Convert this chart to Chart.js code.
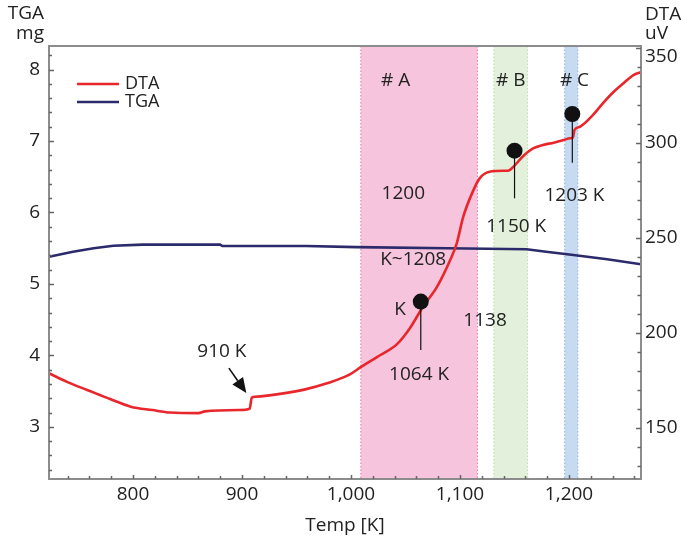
<!DOCTYPE html>
<html>
<head>
<meta charset="utf-8">
<script src="https://cdn.jsdelivr.net/npm/chart.js@4"></script>
<style>
  html, body { margin: 0; padding: 0; background: #fff; }
  #wrap { width: 682px; height: 542px; }
</style>
</head>
<body>
<div id="wrap"><canvas id="c" width="682" height="542"></canvas></div>
<script>
// Thermal analysis run: temperature in K
const dtaTemp = [723, 740, 758, 779, 798, 818, 834, 860, 866, 898, 907, 909, 912, 938, 958, 978, 998, 1010, 1027, 1042, 1054, 1066, 1079, 1091, 1097, 1103, 1111, 1118, 1127, 1140, 1144, 1149, 1158, 1167, 1176, 1186, 1195, 1201, 1203.5, 1205, 1210, 1222, 1231, 1241, 1250, 1259, 1266];
// DTA signal, uV (right axis)
const dtaValues = [178.7, 174.0, 169.9, 165.1, 161.1, 159.3, 158.0, 157.7, 158.6, 159.3, 160.0, 165.8, 166.3, 168.1, 170.2, 173.4, 177.8, 182.3, 188.3, 193.9, 202.4, 213.7, 224.3, 238.3, 247.1, 261.1, 273.4, 281.3, 284.8, 285.3, 285.3, 287.4, 293.1, 297.1, 298.9, 300.1, 301.5, 302.4, 302.8, 306.8, 308.5, 314.7, 320.8, 326.9, 331.4, 335.7, 337.2];

// TGA mass, mg (left axis)
const tgaTemp = [723, 745, 764, 782, 809, 880, 882, 959, 1005, 1088, 1161, 1179, 1204, 1235, 1266];
const tgaValues = [5.38, 5.45, 5.50, 5.535, 5.55, 5.55, 5.53, 5.53, 5.515, 5.50, 5.485, 5.45, 5.405, 5.345, 5.275];

// Marked transition temperatures (K) and pin extents (uV)
const pinTemp = [1064, 1150, 1203];
const pinTop = [216.4, 295.9, 315.2];
const pinBase = [190.9, 270.8, 289.5];

// Temperature windows of the three regions
const regionNames = ['# A', '# B', '# C'];
const regionStart = [1009, 1131, 1196];
const regionEnd = [1116, 1162, 1208];

// Axis tick labels
const tempTicks = [800, 900, 1000, 1100, 1200];
const tgaTicks = [3, 4, 5, 6, 7, 8];
const dtaTicks = [150, 200, 250, 300, 350];

const FONT = '"Open Sans", "DejaVu Sans", sans-serif';
const TEXT = '#222222';
const AXIS = '#8c8c8c';
const RED = '#e8262b';
const NAVY = '#2b2a6b';

const regionFill = ['rgba(246,196,220,1)', 'rgba(227,240,219,1)', 'rgba(198,218,241,1)'];
const regionEdge = ['rgba(238,110,165,0.9)', 'rgba(180,215,160,0.9)', 'rgba(130,175,228,0.9)'];

// Free text placed in data space (x: K, y: uV)
const notes = [
  { text: regionNames[0], x: 1041, y: 333 },
  { text: regionNames[1], x: 1146.5, y: 333 },
  { text: regionNames[2], x: 1205, y: 333 },
  { text: '1200', x: 1048, y: 273.4 },
  { text: 'K~1208', x: 1057, y: 238.3 },
  { text: 'K', x: 1045, y: 212 },
  { text: '1138', x: 1123, y: 206.4 },
  { text: '1064 K', x: 1062.5, y: 177.8 },
  { text: '1150 K', x: 1151.5, y: 255.9 },
  { text: '1203 K', x: 1205, y: 272.2 },
  { text: '910 K', x: 881.6, y: 189.9 }
];
const arrowTail = { x: 888, y: 181.4 };
const arrowTip = { x: 904, y: 168.3 };

const toXY = (xs, ys) => xs.map((x, i) => ({ x: x, y: ys[i] }));

const pinSets = pinTemp.map((t, i) => ({
  label: 'pin' + i,
  data: [{ x: t, y: pinBase[i] }, { x: t, y: pinTop[i] }],
  yAxisID: 'y2',
  borderColor: '#111',
  borderWidth: 1.2,
  pointRadius: [0, 8],
  pointHoverRadius: [0, 8],
  pointBackgroundColor: '#111',
  pointBorderColor: '#111',
  pointBorderWidth: 0,
  fill: false
}));

const regionsPlugin = {
  id: 'regions',
  beforeDatasetsDraw(chart) {
    const { ctx, chartArea: a, scales: { x } } = chart;
    ctx.save();
    regionStart.forEach((s, i) => {
      const x0 = x.getPixelForValue(s);
      const x1 = x.getPixelForValue(regionEnd[i]);
      ctx.fillStyle = regionFill[i];
      ctx.fillRect(x0, a.top, x1 - x0, a.bottom - a.top);
      ctx.strokeStyle = regionEdge[i];
      ctx.lineWidth = 1;
      ctx.setLineDash([1.5, 2]);
      [x0, x1].forEach(px => {
        ctx.beginPath();
        ctx.moveTo(px, a.top);
        ctx.lineTo(px, a.bottom);
        ctx.stroke();
      });
    });
    ctx.restore();
  }
};

const decorPlugin = {
  id: 'decor',
  afterDatasetsDraw(chart) {
    const { ctx, chartArea: a, scales: { x, y, y2 } } = chart;
    ctx.save();

    // notes
    ctx.fillStyle = TEXT;
    ctx.font = '19px ' + FONT;
    ctx.textAlign = 'center';
    ctx.textBaseline = 'middle';
    notes.forEach(n => ctx.fillText(n.text, x.getPixelForValue(n.x), y2.getPixelForValue(n.y)));

    // arrow to the 910 K step
    const tx = x.getPixelForValue(arrowTail.x), ty = y2.getPixelForValue(arrowTail.y);
    const hx = x.getPixelForValue(arrowTip.x), hy = y2.getPixelForValue(arrowTip.y);
    const ang = Math.atan2(hy - ty, hx - tx);
    const headLen = 15, headHalf = 6.5;
    const bx = hx - headLen * Math.cos(ang), by = hy - headLen * Math.sin(ang);
    ctx.strokeStyle = '#111';
    ctx.lineWidth = 1.6;
    ctx.beginPath();
    ctx.moveTo(tx, ty);
    ctx.lineTo(bx, by);
    ctx.stroke();
    ctx.fillStyle = '#111';
    ctx.beginPath();
    ctx.moveTo(hx, hy);
    ctx.lineTo(bx + headHalf * Math.sin(ang), by - headHalf * Math.cos(ang));
    ctx.lineTo(bx - headHalf * Math.sin(ang), by + headHalf * Math.cos(ang));
    ctx.closePath();
    ctx.fill();

    // frame
    ctx.strokeStyle = AXIS;
    ctx.lineWidth = 2;
    ctx.strokeRect(a.left, a.top, a.right - a.left, a.bottom - a.top);

    // inward tick marks
    ctx.lineWidth = 1.5;
    ctx.strokeStyle = '#666';
    ctx.beginPath();
    for (let v = 2.4; v <= 8.31; v += 0.2) {
      const p = Math.round(y.getPixelForValue(v)) + 0.5;
      const major = Math.abs(v - Math.round(v)) < 0.01;
      ctx.moveTo(a.left, p);
      ctx.lineTo(a.left + (major ? 5 : 3), p);
    }
    for (let v = 130; v <= 350; v += 10) {
      const p = Math.round(y2.getPixelForValue(v)) + 0.5;
      const major = v % 50 === 0;
      ctx.moveTo(a.right, p);
      ctx.lineTo(a.right - (major ? 5 : 3.5), p);
    }
    for (let v = 740; v <= 1260; v += 20) {
      const p = Math.round(x.getPixelForValue(v)) + 0.5;
      const major = v % 100 === 0;
      ctx.moveTo(p, a.bottom);
      ctx.lineTo(p, a.bottom - (major ? 4 : 3));
    }
    ctx.stroke();
    ctx.restore();
  },
  afterDraw(chart) {
    const { ctx, chartArea: a, scales: { y2 } } = chart;
    ctx.save();
    ctx.fillStyle = TEXT;
    ctx.font = '19px ' + FONT;
    ctx.textBaseline = 'middle';
    // unit headers
    ctx.textAlign = 'right';
    ctx.fillText('TGA', a.left - 5, 14);
    ctx.fillText('mg', a.left - 5, 34);
    ctx.textAlign = 'left';
    ctx.fillText('DTA', a.right + 4, 15);
    ctx.fillText('uV', a.right + 4, 34);

    // right axis labels, kept below the top edge of the frame
    y2.ticks.forEach(t => {
      const p = Math.max(y2.getPixelForValue(t.value), a.top + 11);
      ctx.fillText(String(t.value), a.right + 4, p);
    });

    // legend
    const items = [chart.data.datasets.find(d => d.label === 'DTA'), chart.data.datasets.find(d => d.label === 'TGA')];
    items.forEach((d, i) => {
      const ly = a.top + 38 + i * 18;
      ctx.strokeStyle = d.borderColor;
      ctx.lineWidth = 2.5;
      ctx.beginPath();
      ctx.moveTo(a.left + 28, ly);
      ctx.lineTo(a.left + 70, ly);
      ctx.stroke();
      ctx.fillStyle = TEXT;
      ctx.font = '18px ' + FONT;
      ctx.fillText(d.label, a.left + 76, ly);
    });
    ctx.restore();
  }
};

new Chart(document.getElementById('c'), {
  type: 'line',
  data: {
    datasets: [
      ...pinSets,
      {
        label: 'DTA',
        data: toXY(dtaTemp, dtaValues),
        yAxisID: 'y2',
        borderColor: RED,
        borderWidth: 2.6,
        pointRadius: 0,
        cubicInterpolationMode: 'monotone',
        fill: false
      },
      {
        label: 'TGA',
        data: toXY(tgaTemp, tgaValues),
        yAxisID: 'y',
        borderColor: NAVY,
        borderWidth: 2.6,
        pointRadius: 0,
        tension: 0,
        fill: false
      }
    ]
  },
  options: {
    responsive: false,
    animation: false,
    devicePixelRatio: 1,
    layout: { padding: { top: 46, left: 0, right: 0, bottom: 0 } },
    plugins: { legend: { display: false }, tooltip: { enabled: false } },
    events: [],
    scales: {
      x: {
        type: 'linear',
        position: 'bottom',
        min: 723,
        max: 1266,
        afterFit: s => { s.height = 63; },
        afterBuildTicks: s => { s.ticks = tempTicks.map(v => ({ value: v })); },
        ticks: { color: TEXT, font: { family: FONT, size: 19 }, padding: 4, maxRotation: 0, callback: v => v.toLocaleString('en-US') },
        grid: { display: false, drawTicks: false },
        border: { display: false },
        title: { display: true, text: 'Temp [K]', color: TEXT, font: { family: FONT, size: 19 }, padding: { top: 0, bottom: 5 } }
      },
      y: {
        type: 'linear',
        position: 'left',
        min: 2.27,
        max: 8.33,
        afterFit: s => { s.width = 49; },
        afterBuildTicks: s => { s.ticks = tgaTicks.map(v => ({ value: v })); },
        ticks: { color: TEXT, font: { family: FONT, size: 19 }, padding: 9 },
        grid: { display: false, drawTicks: false },
        border: { display: false }
      },
      y2: {
        type: 'linear',
        position: 'right',
        min: 123,
        max: 351,
        afterFit: s => { s.width = 41; },
        afterBuildTicks: s => { s.ticks = dtaTicks.map(v => ({ value: v })); },
        ticks: { display: false },
        grid: { display: false, drawTicks: false },
        border: { display: false }
      }
    }
  },
  plugins: [regionsPlugin, decorPlugin]
});
</script>
</body>
</html>
